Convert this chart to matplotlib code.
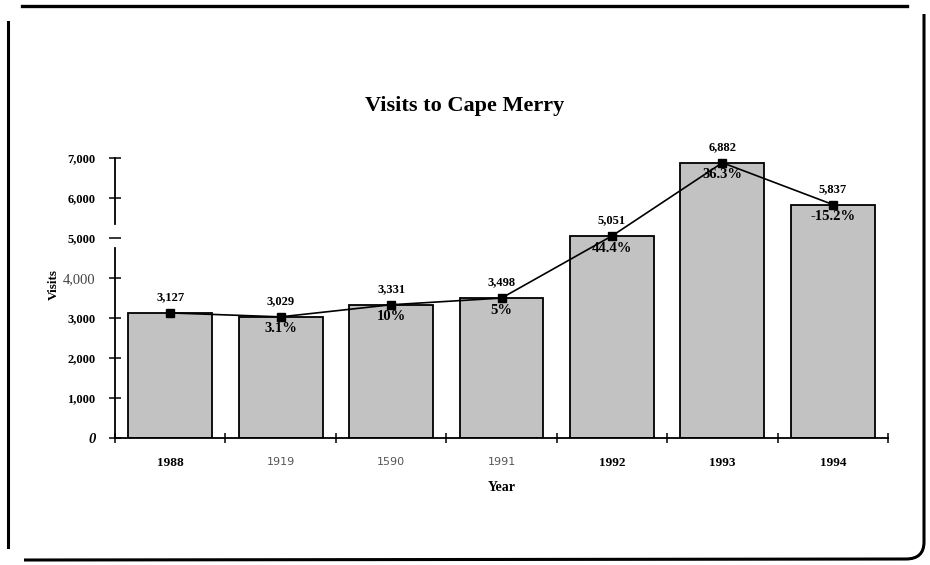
import numpy as np
import matplotlib.pyplot as plt
from matplotlib.lines import Line2D
from matplotlib.path import Path
from matplotlib.patches import PathPatch

# data
years = ['1988', '1919', '1590', '1991', '1992', '1993', '1994']
bold_year = [True, False, False, False, True, True, True]
visits = [3127, 3029, 3331, 3498, 5051, 6882, 5837]
change = ['', '3.1%', '10%', '5%', '44.4%', '36.3%', '-15.2%']
yticks = [0, 1000, 2000, 3000, 4000, 5000, 6000, 7000]

W, H = 930, 565
serif = 'Liberation Serif'

fig = plt.figure(figsize=(W / 100, H / 100), dpi=100)
ax = fig.add_axes([115 / W, 1 - 438 / H, (888 - 115) / W, (438 - 158) / H])

x = np.arange(len(years))
ax.bar(x, visits, width=0.76, color='#c2c2c2', edgecolor='black', linewidth=1.3, zorder=2)
ax.plot(x, visits, color='black', lw=1.2, marker='s', ms=6, zorder=3, clip_on=False)

for i, v in enumerate(visits):
    ax.annotate(f'{v:,}', (i, v), xytext=(0, 7), textcoords='offset points',
                ha='center', va='bottom', fontsize=9, fontweight='bold', family=serif)
    if change[i]:
        ax.annotate(change[i], (i, v), xytext=(0, -4), textcoords='offset points',
                    ha='center', va='top', fontsize=10.5, fontweight='bold', family=serif)

ax.set_xlim(-0.5, len(years) - 0.5)
ax.set_ylim(0, 7000)

# axes look
for s in ['top', 'right']:
    ax.spines[s].set_visible(False)
ax.spines['bottom'].set_linewidth(1.3)
ax.spines['left'].set_linewidth(1.3)
ax.spines['left'].set_bounds(0, 4750)
ax.plot([-0.5, -0.5], [5350, 7000], color='black', lw=1.3, clip_on=False, zorder=4)

ax.set_yticks(yticks)
ax.set_yticklabels([f'{t:,}' if t else '0' for t in yticks])
ax.tick_params(axis='y', direction='inout', length=8, width=1.1, pad=10)
for t, lab in zip(yticks, ax.get_yticklabels()):
    lab.set_family(serif)
    if t == 0:
        lab.set_fontsize(10.5)
        lab.set_fontweight('bold')
        lab.set_fontstyle('italic')
    elif t == 4000:
        lab.set_fontsize(10.5)
        lab.set_color('#444444')
    else:
        lab.set_fontsize(9)
        lab.set_fontweight('bold')

ax.set_xticks(x)
ax.set_xticklabels(years)
ax.set_xticks(np.arange(-0.5, len(years)), minor=True)
ax.tick_params(axis='x', which='major', length=0, pad=14)
ax.tick_params(axis='x', which='minor', direction='inout', length=7, width=1.1)
for b, lab in zip(bold_year, ax.get_xticklabels()):
    if b:
        lab.set_family(serif)
        lab.set_fontweight('bold')
        lab.set_fontsize(9.5)
    else:
        lab.set_family('DejaVu Sans')
        lab.set_fontsize(8)
        lab.set_color('#555555')

ax.set_xlabel('Year', family=serif, fontweight='bold', fontsize=10, labelpad=8)
ax.set_ylabel('Visits', family=serif, fontweight='bold', fontsize=9.5)
ax.yaxis.set_label_coords(-0.072, 0.55)

fig.text(465 / W, 1 - 106 / H, 'Visits to Cape Merry', ha='center', va='center',
         family=serif, fontweight='bold', fontsize=16)

# scanned page frame
def px(p, q):
    return (p / W, 1 - q / H)

fig.add_artist(Line2D(*zip(px(22, 6), px(907, 6)), color='black', lw=2.4))
fig.add_artist(Line2D(*zip(px(8, 22), px(8, 547)), color='black', lw=2.2))
verts = [px(924, 14), px(924, 542), px(924, 559), px(906, 559), px(24, 560)]
codes = [Path.MOVETO, Path.LINETO, Path.CURVE3, Path.CURVE3, Path.LINETO]
fig.add_artist(PathPatch(Path(verts, codes), fill=False, lw=2.2, edgecolor='black',
                         transform=fig.transFigure))

fig.savefig('out.png', dpi=100)
